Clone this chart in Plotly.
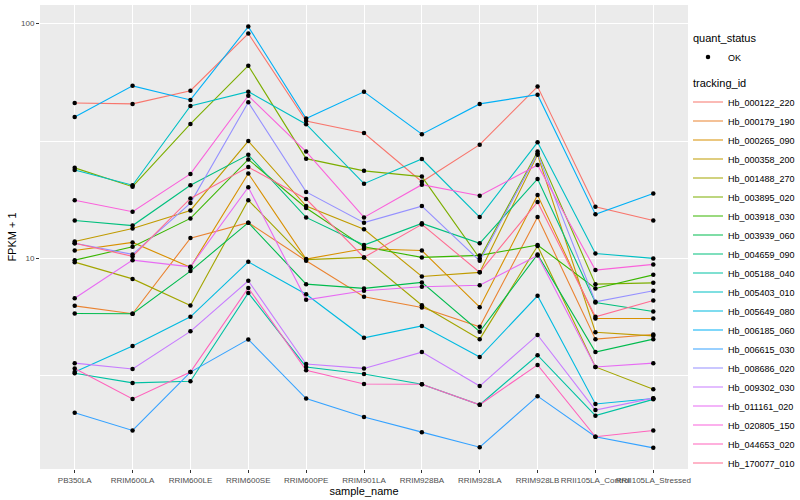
import math
import plotly.graph_objects as go

samples = ["PB350LA", "RRIM600LA", "RRIM600LE", "RRIM600SE", "RRIM600PE", "RRIM901LA",
           "RRIM928BA", "RRIM928LA", "RRIM928LB", "RRII105LA_Control", "RRII105LA_Stressed"]

tracking_ids = ["Hb_000122_220", "Hb_000179_190", "Hb_000265_090", "Hb_000358_200", "Hb_001488_270",
                "Hb_003895_020", "Hb_003918_030", "Hb_003939_060", "Hb_004659_090", "Hb_005188_040",
                "Hb_005403_010", "Hb_005649_080", "Hb_006185_060", "Hb_006615_030", "Hb_008686_020",
                "Hb_009302_030", "Hb_011161_020", "Hb_020805_150", "Hb_044653_020", "Hb_170077_010"]

# FPKM + 1 values, one list per tracking_id (order follows `samples`)
hb_000122_220 = [45.9, 45.5, 51.8, 90.7, 38.5, 34.2, 21.2, 30.5, 53.9, 16.6, 14.5]
hb_000179_190 = [6.28, 5.81, 12.2, 14.2, 9.77, 6.86, 6.18, 5.11, 15.0, 4.53, 4.74]
hb_000265_090 = [10.8, 11.7, 9.16, 23.0, 9.93, 11.0, 10.8, 6.20, 18.6, 5.55, 5.55]
hb_000358_200 = [11.8, 13.4, 16.0, 31.6, 16.7, 13.3, 8.38, 8.72, 27.6, 4.85, 4.68]
hb_001488_270 = [9.64, 8.18, 6.30, 17.7, 9.88, 10.1, 6.32, 4.53, 11.3, 3.45, 2.77]
hb_003895_020 = [24.3, 20.2, 37.4, 66.2, 26.6, 23.6, 22.3, 10.0, 28.5, 7.77, 7.87]
hb_003918_030 = [9.83, 11.2, 14.8, 26.4, 16.4, 11.2, 10.1, 10.3, 11.4, 7.45, 8.51]
hb_003939_060 = [5.83, 5.81, 8.83, 14.2, 7.77, 7.45, 7.90, 4.87, 10.4, 3.99, 4.53]
hb_004659_090 = [14.5, 13.8, 20.5, 27.6, 14.95, 11.4, 14.1, 11.6, 21.8, 6.49, 5.94]
hb_005188_040 = [3.24, 2.95, 3.00, 7.13, 3.45, 3.22, 2.91, 2.38, 3.87, 2.14, 2.51]
hb_005403_010 = [23.8, 20.5, 44.6, 51.3, 37.3, 20.8, 26.5, 15.0, 31.2, 10.5, 10.0]
hb_005649_080 = [3.28, 4.24, 5.64, 9.67, 7.04, 4.59, 5.16, 3.80, 6.93, 2.40, 2.53]
hb_006185_060 = [40.0, 54.3, 47.3, 97.1, 39.4, 51.2, 33.8, 45.5, 49.8, 15.4, 18.9]
hb_006615_030 = [2.20, 1.85, 3.28, 4.52, 2.53, 2.11, 1.82, 1.57, 2.59, 1.74, 1.56]
hb_008686_020 = [11.6, 10.4, 17.2, 46.2, 19.2, 14.2, 16.7, 9.77, 28.0, 6.53, 7.28]
hb_009302_030 = [3.58, 3.38, 4.89, 8.03, 3.55, 3.40, 3.99, 2.86, 4.72, 2.26, 2.54]
hb_011161_020 = [6.77, 9.83, 9.21, 20.1, 6.66, 7.28, 7.57, 7.69, 10.3, 3.45, 3.58]
hb_020805_150 = [17.7, 15.8, 22.9, 49.3, 28.5, 14.95, 20.6, 18.5, 25.0, 8.92, 9.43]
hb_044653_020 = [3.40, 2.52, 3.28, 7.49, 3.34, 2.92, 2.91, 2.38, 3.52, 1.74, 1.85]
hb_170077_010 = [11.6, 10.2, 18.0, 24.5, 17.9, 10.1, 13.96, 8.72, 17.4, 5.64, 6.62]

series_values = [hb_000122_220, hb_000179_190, hb_000265_090, hb_000358_200, hb_001488_270,
                 hb_003895_020, hb_003918_030, hb_003939_060, hb_004659_090, hb_005188_040,
                 hb_005403_010, hb_005649_080, hb_006185_060, hb_006615_030, hb_008686_020,
                 hb_009302_030, hb_011161_020, hb_020805_150, hb_044653_020, hb_170077_010]

quant_status = "OK"

# ggplot2 default hue palette for 20 levels
palette = ["#F8766D", "#EA8331", "#D89000", "#C09B00", "#A3A500", "#7CAE00", "#39B600",
           "#00BB4E", "#00BF7D", "#00C1A3", "#00BFC4", "#00BAE0", "#00B0F6", "#35A2FF",
           "#9590FF", "#C77CFF", "#E76BF3", "#FA62DB", "#FF62BC", "#FF6C91"]

fig = go.Figure()

for i, (name, vals, col) in enumerate(zip(tracking_ids, series_values, palette)):
    fig.add_trace(go.Scatter(
        x=samples, y=vals, mode="lines", name=name,
        line=dict(color=col, width=1.1),
        legendgroup="tracking_id",
        legendgrouptitle=dict(text="tracking_id", font=dict(size=11)) if i == 0 else None,
        legendrank=100 + i, hoverinfo="skip",
    ))

all_x = [s for vals in series_values for s in samples]
all_y = [v for vals in series_values for v in vals]
fig.add_trace(go.Scatter(
    x=all_x, y=all_y, mode="markers", name=quant_status,
    marker=dict(color="black", size=4.5),
    legendgroup="quant_status",
    legendgrouptitle=dict(text="quant_status", font=dict(size=11)),
    legendrank=1,
))

axis_common = dict(
    showgrid=True, gridcolor="white", gridwidth=1.1,
    ticks="outside", ticklen=3, tickwidth=1, tickcolor="#333333",
    tickfont=dict(size=8, color="#4D4D4D"),
    zeroline=False, showline=False,
)

fig.update_layout(
    width=800, height=500,
    margin=dict(l=40, r=112, t=5, b=31, autoexpand=False),
    paper_bgcolor="white", plot_bgcolor="#EBEBEB",
    font=dict(family="Liberation Sans, Arial, sans-serif", size=9, color="black"),
    showlegend=True,
    xaxis=dict(
        type="category", categoryorder="array", categoryarray=samples,
        range=[-0.6, len(samples) - 0.4], tickangle=0, automargin=False,
        title=dict(text="sample_name", font=dict(size=11, color="black"), standoff=0),
        **axis_common,
    ),
    yaxis=dict(
        type="log", range=[math.log10(1.268), math.log10(120)], automargin=False,
        tickvals=[10, 100], ticktext=["10", "100"],
        minor=dict(tickvals=[10 ** 0.5, 10 ** 1.5], showgrid=True,
                   gridcolor="white", gridwidth=0.5, ticks=""),
        title=dict(text="FPKM + 1", font=dict(size=11, color="black"), standoff=2),
        **axis_common,
    ),
    legend=dict(
        x=1.0, xanchor="left", y=0.96, yanchor="top",
        font=dict(size=9), bgcolor="rgba(0,0,0,0)", itemwidth=30,
        traceorder="grouped", tracegroupgap=7,
    ),
)

fig.write_html("out.html", config={"displayModeBar": False},
               post_script="document.body.style.margin='0';document.body.style.overflow='hidden';")
